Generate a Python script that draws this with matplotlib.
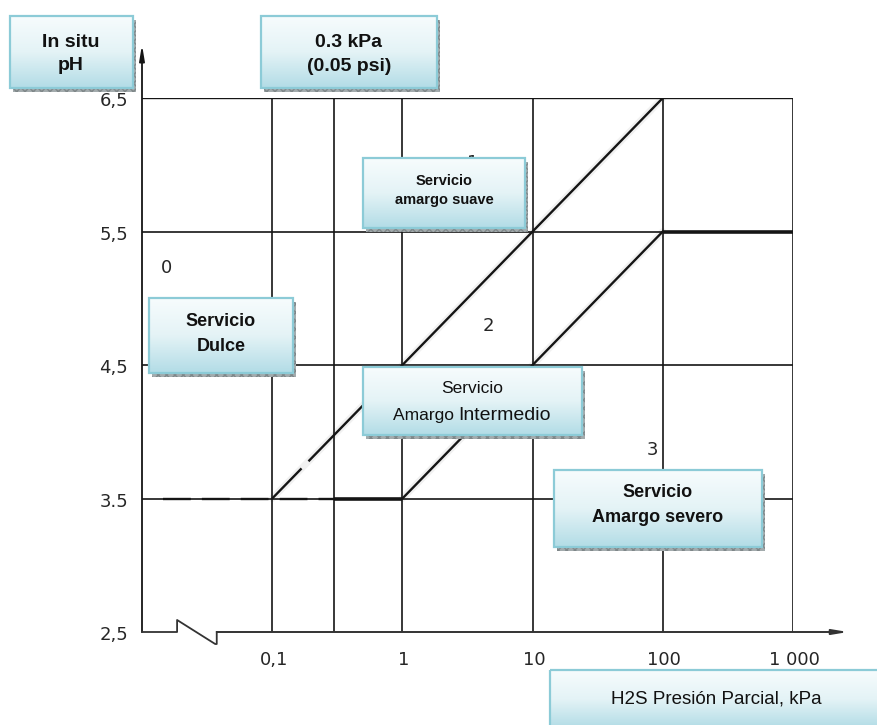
import numpy as np
import matplotlib
matplotlib.use("Agg")
import matplotlib.pyplot as plt
from matplotlib.patches import Rectangle
from matplotlib.colors import LinearSegmentedColormap

plt.rcParams["lines.scale_dashes"] = False

# ---- chart data -------------------------------------------------------
ph_ticks = [2.5, 3.5, 4.5, 5.5, 6.5]
ph_tick_labels = ["2,5", "3.5", "4,5", "5,5", "6,5"]
p_ticks = [0.1, 1, 10, 100, 1000]
p_tick_labels = ["0,1", "1", "10", "100", "1 000"]
p_threshold = 0.3                      # 0.3 kPa (0.05 psi) limit
p_grid = [0.1, p_threshold, 1, 10, 100, 1000]
p_min, p_max = 0.01, 1000
ph_min, ph_max = 2.5, 6.5

# boundary between regions 1 and 2 (short dashed start)
upper_p = [0.1, 100]
upper_ph = [3.5, 6.5]
upper_gap = [0.168, 0.19]
# boundary between regions 2 and 3
lower_p = [p_threshold, 1, 100, 1000]
lower_ph = [3.5, 3.5, 5.5, 5.5]
# dashed limit of the sweet region at pH 3.5
sweet_p = [0.0145, p_threshold]
sweet_ph = [3.5, 3.5]

region_names = ["0", "1", "2", "3"]
region_p = [0.0153, 3.45, 4.59, 83.8]
region_ph = [5.23, 6.01, 4.79, 3.86]

INK = "#151515"
TICK_INK = "#262626"

W, H = 878, 725
fig = plt.figure(figsize=(W / 100, H / 100), dpi=100)
fig.patch.set_facecolor("white")

ax = fig.add_axes([142 / W, 1 - 632 / H, 651 / W, 534 / H])
ax.set_xscale("log")
ax.set_xlim(p_min, p_max)
ax.set_ylim(ph_min, ph_max)
ax.axis("off")
ax.set_zorder(1)


def log_line(p0, p1, ph0, ph1, n=60):
    lp = np.linspace(np.log10(p0), np.log10(p1), n)
    ph = np.interp(lp, [np.log10(p0), np.log10(p1)], [ph0, ph1])
    return 10 ** lp, ph


# grid
for ph in ph_ticks[1:]:
    ax.plot([p_min, p_max], [ph, ph], color=INK, lw=1.2, zorder=2,
            solid_capstyle="butt")
for p in p_grid:
    ax.plot([p, p], [ph_min, ph_max], color=INK, lw=1.2, zorder=2)
ax.plot([p_min, p_max], [ph_max, ph_max], color=INK, lw=1.7, zorder=2)

# region boundaries, with a faint haze along the sloped limits
halo = dict(color="#f1f1f1", lw=5, zorder=1.5, solid_capstyle="round")
x, y = log_line(upper_p[0], upper_p[1], upper_ph[0], upper_ph[1])
ax.plot(x, y, **halo)
ax.plot(lower_p[1:3], lower_ph[1:3], **halo)

seg_a = log_line(upper_p[0], upper_gap[0], upper_ph[0],
                 np.interp(np.log10(upper_gap[0]), np.log10(upper_p), upper_ph))
seg_b = log_line(upper_gap[1], upper_p[1],
                 np.interp(np.log10(upper_gap[1]), np.log10(upper_p), upper_ph),
                 upper_ph[1])
for sx, sy in (seg_a, seg_b):
    ax.plot(sx, sy, color=INK, lw=1.7, zorder=3, solid_capstyle="butt")

ax.plot(lower_p[1:3], lower_ph[1:3], color=INK, lw=1.7, zorder=3)
ax.plot(lower_p[:2], lower_ph[:2], color=INK, lw=2.6, zorder=3,
        solid_capstyle="butt")
ax.plot(lower_p[2:], lower_ph[2:], color=INK, lw=2.6, zorder=3,
        solid_capstyle="butt")
ax.plot(sweet_p, sweet_ph, color=INK, lw=1.7, zorder=3,
        linestyle=(0, (20, 8)))

# vertical axis with arrow
ax.annotate("", xy=(p_min, 6.9), xytext=(p_min, ph_min),
            arrowprops=dict(arrowstyle="-|>,head_length=0.9,head_width=0.15",
                            lw=1.3, color=INK, shrinkA=0, shrinkB=0),
            annotation_clip=False, zorder=3)

# horizontal axis with break symbol and arrow
brk = [p_min, 0.0186, 0.0186, 0.0365, 0.0375, 0.0375]
brk_ph = [ph_min, ph_min, 2.59, 2.41, 2.41, ph_min]
ax.plot(brk, brk_ph, color="#333333", lw=1.3, clip_on=False, zorder=3)
ax.annotate("", xy=(2650, ph_min), xytext=(brk[-1], ph_min),
            arrowprops=dict(arrowstyle="-|>,head_length=0.9,head_width=0.15",
                            lw=1.4, color="#333333", shrinkA=0, shrinkB=0),
            annotation_clip=False, zorder=3)

# tick labels in a narrow drafting-style face
tick_font = dict(family=["Liberation Sans Narrow", "DejaVu Sans"],
                 fontsize=13, color=TICK_INK)
for ph, lab in zip(ph_ticks, ph_tick_labels):
    ax.annotate(lab, xy=(p_min, ph), xytext=(-10, -2.5),
                textcoords="offset points", ha="right", va="center",
                annotation_clip=False, **tick_font)
for p, lab in zip(p_ticks, p_tick_labels):
    ax.annotate(lab, xy=(p, ph_min), xytext=(1, -20),
                textcoords="offset points", ha="center", va="center",
                annotation_clip=False, **tick_font)

for name, p, ph in zip(region_names, region_p, region_ph):
    ax.text(p, ph, name, ha="center", va="center", zorder=2.5, **tick_font)

# ---- labelled boxes ---------------------------------------------------
ov = fig.add_axes([0, 0, 1, 1])
ov.set_zorder(5)
ov.axis("off")

box_cmap = LinearSegmentedColormap.from_list(
    "box", ["#f7fcfd", "#e4f3f6", "#b2dce6"])
grad = np.linspace(0, 1, 256).reshape(-1, 1)


def draw_box(x0, y0, x1, y1):
    ov.add_patch(Rectangle((x0 + 3, y0 + 4), x1 - x0, y1 - y0,
                           facecolor="#a3abad", edgecolor="#7f8789",
                           hatch="xxxx", lw=0, zorder=1))
    ov.imshow(grad, extent=(x0, x1, y1, y0), cmap=box_cmap, aspect="auto",
              interpolation="bilinear", zorder=2)
    ov.add_patch(Rectangle((x0, y0), x1 - x0, y1 - y0, fill=False,
                           edgecolor="#8ccbd7", lw=1.6, zorder=3))


boxes = [
    (10, 16, 133, 88),     # In situ pH
    (261, 16, 437, 88),    # 0.3 kPa
    (363, 158, 525, 228),  # amargo suave
    (149, 298, 293, 373),  # Dulce
    (363, 367, 582, 435),  # Intermedio
    (554, 470, 762, 547),  # severo
    (550, 670, 880, 728),  # axis title
]
for b in boxes:
    draw_box(*b)

SANS = "Liberation Sans"
lines = [
    ("In situ", 71, 47, 14, "bold"),
    ("pH", 71, 70, 14, "bold"),
    ("0.3 kPa", 349, 47, 14, "bold"),
    ("(0.05 psi)", 349, 71, 14, "bold"),
    ("Servicio", 444, 185, 10.5, "bold"),
    ("amargo suave", 444, 204, 10.5, "bold"),
    ("Servicio", 221, 326, 13, "bold"),
    ("Dulce", 221, 351, 13, "bold"),
    ("Servicio", 472, 393, 12.5, "normal"),
    ("Servicio", 658, 497, 13, "bold"),
    ("Amargo severo", 658, 522, 13, "bold"),
    ("H2S Presión Parcial, kPa", 716, 703, 13.5, "normal"),
]
for txt, x, y, size, weight in lines:
    ov.text(x, y, txt, ha="center", va="baseline", fontsize=size,
            fontweight=weight, family=SANS, color="#111111", zorder=4)

# second line of the intermediate box mixes two sizes
renderer = fig.canvas.get_renderer()
t1 = ov.text(0, 420, "Amargo ", ha="left", va="baseline", fontsize=12.5,
             family=SANS, color="#111111", zorder=4)
t2 = ov.text(0, 420, "Intermedio", ha="left", va="baseline", fontsize=14,
             family=SANS, color="#111111", zorder=4)
ov.set_xlim(0, W)
ov.set_ylim(H, 0)
w1 = t1.get_window_extent(renderer).width
w2 = t2.get_window_extent(renderer).width
start = 472 - (w1 + w2) / 2
t1.set_x(start)
t2.set_x(start + w1)

ov.set_xlim(0, W)
ov.set_ylim(H, 0)

fig.savefig("out.png", dpi=100, facecolor="white")
